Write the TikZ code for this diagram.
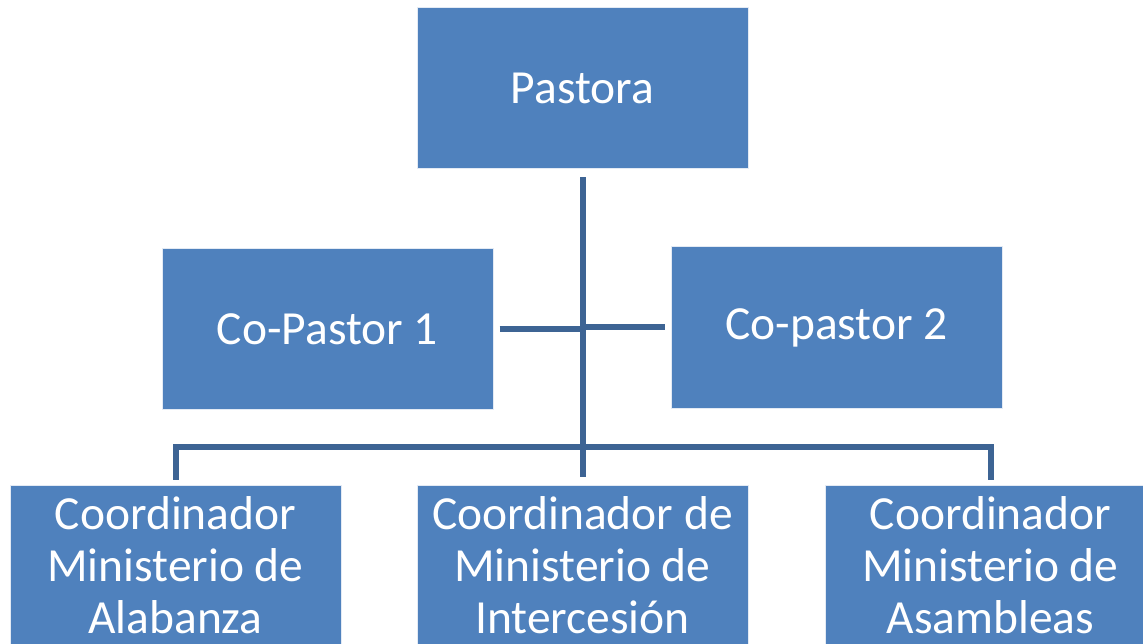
\documentclass[tikz,border=0pt]{standalone}
\usepackage{fontspec}
\setmainfont{Carlito}
\definecolor{boxfill}{HTML}{4F81BD}
\definecolor{boxedge}{HTML}{E3EAF4}
\definecolor{linecol}{HTML}{3D6494}
\begin{document}
\begin{tikzpicture}[x=1pt,y=-1pt,
  orgbox/.style={rectangle, fill=boxfill, draw=boxedge, line width=1pt,
    minimum width=331pt, minimum height=161pt, inner sep=0pt,
    text=white, align=center, font=\fontsize{47.5}{52}\selectfont},
  link/.style={draw=linecol, line width=6pt}]
\useasboundingbox (0,0) rectangle (1143,644);
\clip (0,0) rectangle (1143,644);
\node[orgbox] (p) at (582.5,88.5) {Pastora};
\node[orgbox] (c1) at (327.5,329) {Co-Pastor 1};
\node[orgbox] (c2) at (836.5,327.5) {Co-pastor 2};
\node[orgbox] (b1) at (175.5,565.5) {Coordinador\\Ministerio de\\Alabanza};
\node[orgbox] (b2) at (582.5,565.5) {Coordinador de\\Ministerio de\\Intercesión};
\node[orgbox] (b3) at (990.5,565.5) {Coordinador\\Ministerio de\\Asambleas};
\coordinate (j1) at (583,329);
\coordinate (j2) at (583,327);
\draw[link] ([yshift=-8pt]p.south) -- ([yshift=8pt]b2.north);
\draw[link] ([xshift=6pt]c1.east |- j1) -- (j1);
\draw[link] ([xshift=-6pt]c2.west |- j2) -- (j2);
\draw[link, line join=miter] ([yshift=5pt]b1.north) |- (583,447) -| ([yshift=5pt]b3.north);
\end{tikzpicture}
\end{document}
